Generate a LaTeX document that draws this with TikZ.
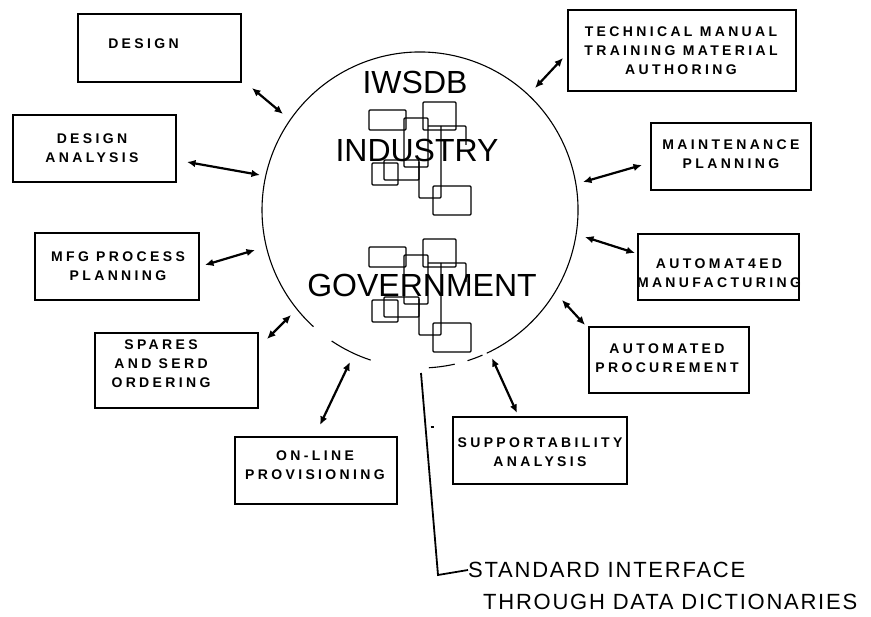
\documentclass[tikz,border=0pt]{standalone}
\usepackage{fontspec}
\setmainfont{Liberation Sans}
\newfontfamily\boxfont[LetterSpace=24]{Liberation Sans Bold}
\newfontfamily\bigfont[LetterSpace=0]{Liberation Sans}
\newfontfamily\notefont[LetterSpace=8]{Liberation Sans}
\usetikzlibrary{arrows.meta}
\tikzset{
  box/.style={draw, line width=1.2pt, inner sep=0pt},
  lbl/.style={font=\boxfont\fontsize{14}{19}\selectfont, align=center, inner sep=0pt},
  big/.style={font=\bigfont\fontsize{32}{32}\selectfont, inner sep=0pt},
  note/.style={font=\notefont\fontsize{22}{22}\selectfont, inner sep=0pt, anchor=west},
  link/.style={{Latex[length=8.5pt,width=7.5pt]}-{Latex[length=8.5pt,width=7.5pt]}, line width=2.2pt},
  ring/.style={line width=1.1pt},
  db/.style={line width=1.4pt, rounded corners=1pt},
}
\begin{document}
\begin{tikzpicture}[x=1pt,y=-1pt]
\useasboundingbox (0,0) rectangle (871,617);
% circle with gaps (y axis points down, so angles run clockwise on screen)
\coordinate (c) at (420,210);
\draw[ring] (c) ++(65:158) arc[start angle=65, end angle=-227.6, radius=158];
\draw[ring] (c) ++(124:158) arc[start angle=124, end angle=108.2, radius=158];
\draw[ring] (c) ++(86.8:158) arc[start angle=86.8, end angle=77.3, radius=158];
\draw[ring] (c) ++(72.5:158) arc[start angle=72.5, end angle=66.7, radius=158];
% clusters of data bases
\foreach \dy in {0,137}{
\begin{scope}[yshift=-\dy pt]
  \draw[db] (369,110) rectangle (406,130);
  \draw[db] (423,102) rectangle (456,130);
  \draw[db] (404,118) rectangle (428,167);
  \draw[db] (428,126) -- (466,126) -- (466,145);
  \draw[db] (372,163) rectangle (398,185);
  \draw[db] (384,160) rectangle (419,180);
  \draw[db] (441,126) -- (441,198) -- (419,198) -- (419,162);
  \draw[db] (433,186) rectangle (471,215);
\end{scope}}
% central texts
\node[big] (iwsdb) at (415,82) {IWSDB};
\node[big] (industry) at (417,150) {INDUSTRY};
\node[big] (government) at (422,285) {GOVERNMENT};
% boxes
\node[box, minimum width=163, minimum height=68] (design) at (159.5,48) {};
\node[lbl] (designT) at (143.5,44) {DESIGN};
\node[box, minimum width=163, minimum height=67] (danal) at (94.5,148.5) {};
\node[lbl] (danalT) at (92,148) {DESIGN\\ANALYSIS};
\node[box, minimum width=164, minimum height=67] (mfg) at (117,266.5) {};
\node[lbl] (mfgT) at (118,266) {MFG PROCESS\\PLANNING};
\node[box, minimum width=163, minimum height=75] (spares) at (176.5,370.5) {};
\node[lbl] (sparesT) at (161,363.5) {SPARES\\AND SERD\\ORDERING};
\node[box, minimum width=162, minimum height=67] (online) at (316,470.5) {};
\node[lbl] (onlineT) at (315,465) {ON-LINE\\PROVISIONING};
\node[box, minimum width=174, minimum height=67] (support) at (540,450.5) {};
\node[lbl] (supportT) at (540,452) {SUPPORTABILITY\\ANALYSIS};
\node[box, minimum width=160, minimum height=66] (proc) at (669,360) {};
\node[lbl] (procT) at (667,358) {AUTOMATED\\PROCUREMENT};
\node[box, minimum width=161, minimum height=66] (amfg) at (718.5,267) {};
\node[lbl] (amfgT) at (719,273) {AUTOMAT4ED\\MANUFACTURING};
\node[box, minimum width=160, minimum height=67] (maint) at (731,156.5) {};
\node[lbl] (maintT) at (731,154.5) {MAINTENANCE\\PLANNING};
\node[box, minimum width=228, minimum height=81] (tech) at (682,50.5) {};
\node[lbl] (techT) at (681,51) {TECHNICAL MANUAL\\TRAINING MATERIAL\\AUTHORING};
% arrow end points
\coordinate (a1) at (252,88);  \coordinate (b1) at (283,114);
\coordinate (a2) at (187,162); \coordinate (b2) at (260,175);
\coordinate (a3) at (205,265); \coordinate (b3) at (255,250);
\coordinate (a4) at (267,339); \coordinate (b4) at (291,315);
\coordinate (a5) at (320,425); \coordinate (b5) at (350,362);
\coordinate (a6) at (517,413); \coordinate (b6) at (492,358);
\coordinate (a7) at (585,325); \coordinate (b7) at (562,300);
\coordinate (a8) at (635,253); \coordinate (b8) at (585,237);
\coordinate (a9) at (642,165); \coordinate (b9) at (583,182);
\coordinate (a10) at (563,58); \coordinate (b10) at (535,88);
\foreach \i in {1,...,10}{\draw[link] (a\i) -- (b\i);}
% standard interface
\node[note] (std) at (468,570) {STANDARD INTERFACE};
\node[note] (thr) at (483,602) {THROUGH DATA DICTIONARIES};
\coordinate (s0) at (421,373);
\coordinate (s1) at (438,575);
\draw[line width=1.8pt] (s0) -- (s1) -- (std.west);
\coordinate (t0) at (430.6,427);
\coordinate (t1) at (434,427);
\draw[line width=1.8pt] (t0) -- (t1);
\end{tikzpicture}
\end{document}
